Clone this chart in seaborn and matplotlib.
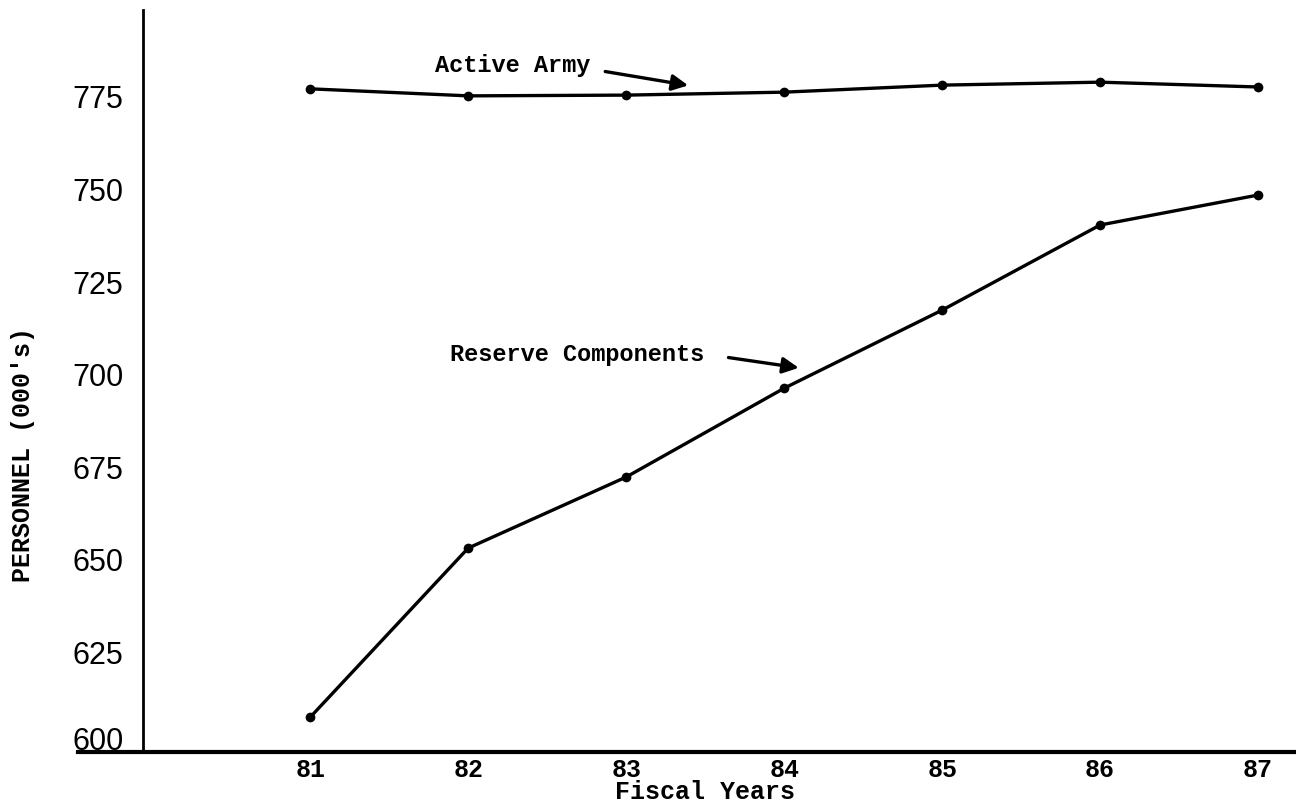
import pandas as pd
import matplotlib
matplotlib.use('Agg')
import matplotlib.pyplot as plt
import matplotlib.transforms as mtransforms
import seaborn as sns

# values (personnel, thousands)
fiscal_years = [81, 82, 83, 84, 85, 86, 87]
active_army = [777.2, 775.3, 775.5, 776.3, 778.2, 779.0, 777.7]
reserve_components = [607.4, 653.1, 672.3, 696.3, 717.4, 740.4, 748.5]
y_ticks = [600, 625, 650, 675, 700, 725, 750, 775]

df = pd.DataFrame({
    'Year': fiscal_years * 2,
    'Personnel': active_army + reserve_components,
    'Series': ['Active Army'] * 7 + ['Reserve Components'] * 7,
})

sns.set_style('white')
plt.rcParams['font.family'] = ['Liberation Mono', 'DejaVu Sans']
plt.rcParams['text.color'] = 'black'

fig = plt.figure(figsize=(12.96, 8.07), dpi=100)
ax = fig.add_axes([78 / 1296, 55 / 807, 1218 / 1296, 742 / 807])

sns.lineplot(data=df, x='Year', y='Personnel', hue='Series',
             palette=['black', 'black'], linewidth=2.4, marker='o',
             markersize=7, markeredgewidth=0, legend=False, ax=ax)

ax.set_xlim(79.53, 87.24)
ax.set_ylim(598, 798.5)

# axes drawn like the original: y axis sits a bit right of where x axis starts
ax.spines['top'].set_visible(False)
ax.spines['right'].set_visible(False)
ax.spines['left'].set_position(('data', 79.94))
ax.spines['left'].set_linewidth(2.0)
ax.spines['bottom'].set_linewidth(3.0)
ax.spines['left'].set_color('black')
ax.spines['bottom'].set_color('black')

ax.set_xticks(fiscal_years)
ax.set_xticklabels([str(y) for y in fiscal_years], fontsize=18,
                   fontweight='bold', family=['Liberation Mono', 'DejaVu Sans'])
ax.set_yticks(y_ticks)
ax.set_yticklabels([str(v) for v in y_ticks], fontsize=22,
                   family=['Liberation Sans', 'DejaVu Sans'])
ax.tick_params(axis='both', length=0, labelcolor='black')
ax.tick_params(axis='y', pad=14)
ax.tick_params(axis='x', pad=4)

# the bottom "600" sits just above the x axis in the original
lbl = ax.get_yticklabels()[0]
lbl.set_transform(lbl.get_transform() +
                  mtransforms.ScaledTranslation(0, 6 / 100, fig.dpi_scale_trans))

ax.set_xlabel('')
ax.set_ylabel('')
ax.text(0.515, -0.054, 'Fiscal Years', transform=ax.transAxes,
        ha='center', va='center', fontsize=18, fontweight='bold')
fig.text(23 / 1296, 1 - 455 / 807, "PERSONNEL (000's)", rotation=90,
         ha='center', va='center', fontsize=18, fontweight='bold')

# hand-lettered labels with arrows
ax.annotate('', xy=(83.41, 778.0), xytext=(82.85, 782.0),
            arrowprops=dict(arrowstyle='-|>', color='black', lw=2.4,
                            mutation_scale=24))
ax.text(81.79, 783.4, 'Active Army', fontsize=17, fontweight='bold',
        ha='left', va='center')

ax.annotate('', xy=(84.11, 701.7), xytext=(83.63, 704.7),
            arrowprops=dict(arrowstyle='-|>', color='black', lw=2.4,
                            mutation_scale=24))
ax.text(81.886, 705.3, 'Reserve Components', fontsize=17, fontweight='bold',
        ha='left', va='center')

fig.savefig('out.png', dpi=100)
plt.close(fig)
